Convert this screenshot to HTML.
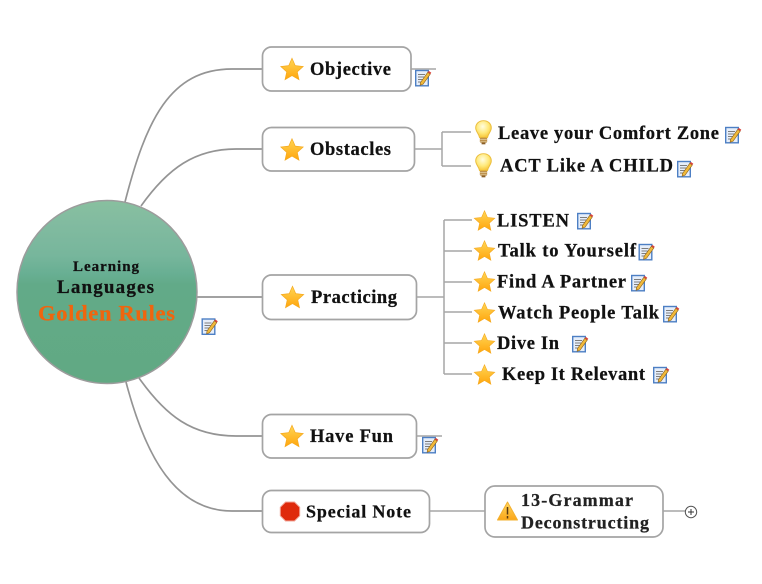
<!DOCTYPE html>
<html><head><meta charset="utf-8"><style>
html,body{margin:0;padding:0;background:#fff;width:762px;height:584px;overflow:hidden}
svg{display:block}
text{font-family:"Liberation Serif",serif;font-weight:bold;fill:#111;stroke:#111;stroke-width:.25}
.b{fill:#fff;stroke:#a4a4a4;stroke-width:1.7}
.c{fill:none;stroke:#949494;stroke-width:1.7}
.d{fill:none;stroke:#a6a6a6;stroke-width:1.5}
</style></head><body>
<svg width="762" height="584" viewBox="0 0 762 584" xmlns="http://www.w3.org/2000/svg">
<defs>
<linearGradient id="g" x1="0" y1="0" x2="0" y2="1">
<stop offset="0" stop-color="#88c09f"/><stop offset=".12" stop-color="#82bba0"/><stop offset=".3" stop-color="#77b69c"/><stop offset=".4" stop-color="#68af93"/><stop offset=".46" stop-color="#62aa88"/><stop offset="1" stop-color="#61a983"/>
</linearGradient>
<linearGradient id="st" x1="0" y1="0" x2="0" y2="1"><stop offset="0" stop-color="#ffd655"/><stop offset="1" stop-color="#ffa50c"/></linearGradient>
<radialGradient id="bu" cx=".45" cy=".35" r=".7"><stop offset="0" stop-color="#fffde0"/><stop offset=".55" stop-color="#ffe97a"/><stop offset="1" stop-color="#f6bf2c"/></radialGradient>
<linearGradient id="wa" x1="0" y1="0" x2="0" y2="1"><stop offset="0" stop-color="#ffd861"/><stop offset="1" stop-color="#fba518"/></linearGradient>
<symbol id="star" viewBox="0 0 24 24" overflow="visible"><path d="M12 .8l3.4 7.7 8.300.9-6.200 5.600 1.800 8.200L12 18.900 4.700 23.200l1.800-8.200L.3 9.400l8.300-.9z" fill="url(#st)" stroke="#f5a91f" stroke-width=".7"/></symbol>
<symbol id="bulb" viewBox="0 0 18 26" overflow="visible"><path d="M9 .7C4.200.7.900 4 .9 8.300c0 3.700 3.100 5.500 4 10h8.200c.9-4.500 4-6.300 4-10C17.100 4 13.800.7 9 .7z" fill="url(#bu)" stroke="#ebbd3c" stroke-width="1"/><rect x="5.200" y="18.500" width="7.600" height="5" rx="1" fill="#b7873f"/><path d="M5.500 20h7M5.500 22h7" stroke="#efe0b8" stroke-width=".7"/><rect x="7" y="23.500" width="4" height="1.800" fill="#8a5f28"/></symbol>
<symbol id="note" viewBox="0 0 16 17" overflow="visible"><rect x=".7" y="1" width="12.600" height="15.300" fill="#e6eefa" stroke="#4d7fc4" stroke-width="1.400"/><path d="M3 5h7M3 7.500h6M3 10h5M3 12.500h4" stroke="#7d7d7d" stroke-width=".9"/><path d="M5.500 13L12.800 2.800l2.500 1.800L8 14.800l-2.900 1z" fill="#f0b93a" stroke="#8a5f1a" stroke-width=".6"/><path d="M12.800 2.800l1-1.400 2.500 1.800-1 1.400z" fill="#d8433b"/></symbol>
</defs>

<!-- connectors -->
<path class="c" d="M125 202C146 120 170 69 232 69H262"/>
<path class="c" d="M141 206C168 168 195 149 236 149H262"/>
<path class="c" d="M197 297H262"/>
<path class="c" d="M139 378C166 416 192 436 236 436H262"/>
<path class="c" d="M126 382C146 458 176 511 232 511H262"/>

<!-- right side stubs -->
<path class="d" d="M411 69H436"/>
<path class="d" d="M415 149H442M442 132V166M442 132H471M442 166H471"/>
<path class="d" d="M417 297H444M444 220V374M444 220H472M444 251H472M444 282H472M444 312H472M444 343H472M444 374H472"/>
<path class="d" d="M417 436H442"/>
<path class="d" d="M430 511H485"/>
<path class="d" d="M663 511H686"/>

<!-- central -->
<ellipse cx="107" cy="292" rx="90" ry="91.500" fill="url(#g)" stroke="#9c9c9c" stroke-width="1.500"/>
<text x="73" y="271" font-size="15" textLength="66" lengthAdjust="spacing">Learning</text>
<text x="57" y="293" font-size="19" textLength="97" lengthAdjust="spacing">Languages</text>
<text x="38" y="320.500" font-size="22.500" textLength="137" lengthAdjust="spacing" style="fill:#f0650e;stroke:#f0650e">Golden Rules</text>
<use href="#note" x="201.500" y="318" width="16" height="17"/>

<!-- main boxes -->
<rect class="b" x="262.500" y="47" width="148.500" height="44" rx="9"/>
<use href="#star" x="280.500" y="57.500" width="23" height="23"/>
<text x="310" y="75" font-size="18.500" textLength="81" lengthAdjust="spacing">Objective</text>
<use href="#note" x="415" y="69.500" width="16" height="17"/>

<rect class="b" x="262.500" y="127.500" width="152" height="43.500" rx="9"/>
<use href="#star" x="280.500" y="138" width="23" height="23"/>
<text x="310" y="155" font-size="18.500" textLength="81" lengthAdjust="spacing">Obstacles</text>

<rect class="b" x="262.500" y="275" width="154" height="44.500" rx="9"/>
<use href="#star" x="281" y="285.500" width="23" height="23"/>
<text x="311" y="303" font-size="18.500" textLength="86" lengthAdjust="spacing">Practicing</text>

<rect class="b" x="262.500" y="414.500" width="154" height="43.500" rx="9"/>
<use href="#star" x="280.500" y="424.500" width="23" height="23"/>
<text x="310" y="442" font-size="18.500" textLength="83" lengthAdjust="spacing">Have Fun</text>
<use href="#note" x="422" y="436.500" width="16" height="17"/>

<rect class="b" x="262.500" y="490.500" width="167" height="42" rx="9"/>
<path d="M285.500 502h9l5.200 5.200v8.600l-5.200 5.200h-9l-5.200-5.200v-8.600z" fill="#df2a0c" stroke="#f2a79a" stroke-width="1"/>
<text x="306" y="517.500" font-size="18" textLength="105" lengthAdjust="spacing">Special Note</text>

<rect class="b" x="485" y="486" width="178" height="51" rx="10"/>
<path d="M507.500 502L517.500 520H497.500z" fill="url(#wa)" stroke="#f3b02e" stroke-width="1" stroke-linejoin="round"/>
<path d="M507.500 507v7.500M507.500 516v2.500" stroke="#5a3a10" stroke-width="1.500"/>
<text x="521" y="506" font-size="18" textLength="112" lengthAdjust="spacing" style="fill:#222;stroke:#222">13-Grammar</text>
<text x="521" y="528.500" font-size="18" textLength="128" lengthAdjust="spacing" style="fill:#222;stroke:#222">Deconstructing</text>
<circle cx="691" cy="512" r="5.700" fill="#fff" stroke="#555" stroke-width="1"/>
<path d="M688 512h6M691 509v6" stroke="#333" stroke-width="1"/>

<!-- Obstacles children -->
<use href="#bulb" x="474.500" y="120" width="18" height="25"/>
<text x="498" y="139" font-size="18.500" textLength="221" lengthAdjust="spacing">Leave your Comfort Zone</text>
<use href="#note" x="725" y="126.500" width="16" height="17"/>
<use href="#bulb" x="474.500" y="153" width="18" height="25"/>
<text x="500" y="171.500" font-size="18.500" textLength="173" lengthAdjust="spacing">ACT Like A CHILD</text>
<use href="#note" x="677" y="160.500" width="16" height="17"/>

<!-- Practicing children -->
<use href="#star" x="474" y="210" width="21" height="21"/>
<text x="497" y="226.300" font-size="18.500" textLength="72" lengthAdjust="spacing">LISTEN</text>
<use href="#note" x="577" y="212.500" width="16" height="17"/>
<use href="#star" x="474" y="240" width="21" height="21"/>
<text x="498" y="256.300" font-size="18.500" textLength="138" lengthAdjust="spacing">Talk to Yourself</text>
<use href="#note" x="638.500" y="243.500" width="16" height="17"/>
<use href="#star" x="474" y="271" width="21" height="21"/>
<text x="497" y="287.300" font-size="18.500" textLength="129" lengthAdjust="spacing">Find A Partner</text>
<use href="#note" x="631" y="274.500" width="16" height="17"/>
<use href="#star" x="474" y="302" width="21" height="21"/>
<text x="498" y="318.300" font-size="18.500" textLength="161" lengthAdjust="spacing">Watch People Talk</text>
<use href="#note" x="663" y="305.500" width="16" height="17"/>
<use href="#star" x="474" y="333" width="21" height="21"/>
<text x="497" y="349" font-size="18.500" textLength="62" lengthAdjust="spacing">Dive In</text>
<use href="#note" x="572" y="335.500" width="16" height="17"/>
<use href="#star" x="474" y="364" width="21" height="21"/>
<text x="502" y="380" font-size="18.500" textLength="143" lengthAdjust="spacing">Keep It Relevant</text>
<use href="#note" x="653" y="366.500" width="16" height="17"/>
</svg>
</body></html>
